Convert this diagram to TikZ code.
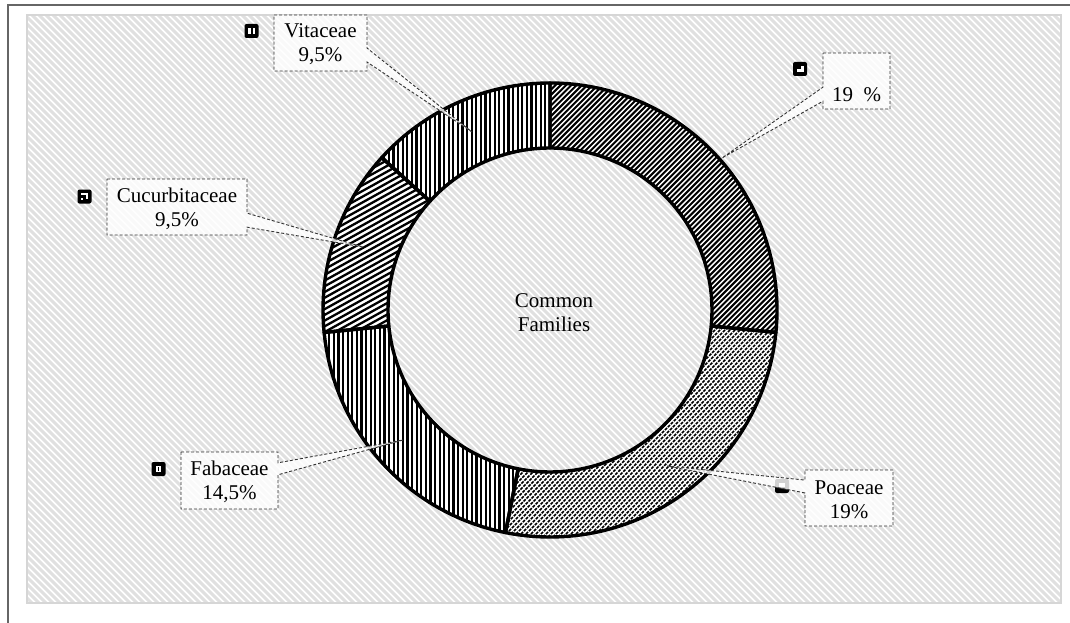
\documentclass[tikz,border=0pt]{standalone}
\usepackage{fontspec}
\setmainfont{Liberation Serif}
\usetikzlibrary{calc}
\begin{document}
\begin{tikzpicture}[x=1pt,y=-1pt,
  bgline/.style={draw=black!12, line width=2.9pt},
  ringedge/.style={draw=black, line width=3.4pt, line join=round},
  patline/.style={draw=black, line width=2.2pt},
  dashline/.style={draw=black, line width=1.5pt, dash pattern=on 3pt off 1.2pt},
  callout/.style={draw=black!80, densely dashed, line width=0.9pt, fill=white, fill opacity=0.82},
  lbl/.style={font=\fontsize{21}{24}\selectfont, align=center, text=black, inner sep=0pt},
  icon/.style={fill=black, rounded corners=2pt, minimum size=14pt, inner sep=0pt},
  boxsh/.style={inner sep=0pt, outer sep=0pt},
  sector/.style 2 args={insert path={(#1:227) arc[start angle=#1,end angle=#2,radius=227] -- (#2:162) arc[start angle=#2,end angle=#1,radius=162] -- cycle}}
]
\useasboundingbox (0,0) rectangle (1070,623);
% outer frame
\draw[black!60, line width=1.4pt] (1070,5) -- (8,5) -- (8,623);
% background hatch
\begin{scope}
  \clip (27,15) rectangle (1061,603);
  \foreach \i in {0,...,235} { \draw[bgline] ({27-590+\i*7},15) -- ++(590,590); }
\end{scope}
\draw[black!16, line width=1.6pt] (27,15) rectangle (1061,603);

% ring
\begin{scope}[shift={(550,310)}, yscale=-1]
  % segment A (19 %)
  \begin{scope}
    \clip[sector={90}{-5.66}];
    \fill[white] (-240,-240) rectangle (240,240);
    \foreach \i in {0,...,92} { \draw[patline, line width=2pt] ({-230+\i*5.3-230},-230) -- ++(460,460); }
  \end{scope}
  % Poaceae
  \begin{scope}
    \clip[sector={-5.66}{-101.32}];
    \fill[white] (-240,-240) rectangle (240,240);
    \foreach \i in {0,...,106} { \draw[dashline] ({-70+\i*5-230},-230) -- ++(460,460); }
  \end{scope}
  % Fabaceae
  \begin{scope}
    \clip[sector={-101.32}{-174.33}];
    \fill[white] (-240,-240) rectangle (240,240);
    \foreach \i in {0,...,46} { \draw[patline] ({-230+\i*4.6},-240) -- ++(0,480); }
  \end{scope}
  % Cucurbitaceae
  \begin{scope}
    \clip[sector={-174.33}{-222.17}];
    \fill[white] (-240,-240) rectangle (240,240);
    \begin{scope}[rotate=-29]
      \foreach \i in {0,...,120} { \draw[patline, line width=2.3pt] (-320,{-300+\i*5}) -- ++(640,0); }
    \end{scope}
  \end{scope}
  % Vitaceae
  \begin{scope}
    \clip[sector={-222.17}{-270}];
    \fill[white] (-240,-240) rectangle (240,240);
    \foreach \i in {0,...,40} { \draw[patline] ({-175+\i*4.6},-240) -- ++(0,480); }
  \end{scope}
  \draw[ringedge, sector={90}{-5.66}];
  \draw[ringedge, sector={-5.66}{-101.32}];
  \draw[ringedge, sector={-101.32}{-174.33}];
  \draw[ringedge, sector={-174.33}{-222.17}];
  \draw[ringedge, sector={-222.17}{-270}];
\end{scope}

% icons
\node[icon] (icv) at (251.5,31) {};
\fill[white] ([shift={(-3.5,-3)}]icv.center) rectangle ([shift={(-1,3)}]icv.center);
\fill[white] ([shift={(1,-3)}]icv.center) rectangle ([shift={(3.5,3)}]icv.center);
\node[icon] (ica) at (800,69) {};
\fill[white] ([shift={(-3.5,0.5)}]ica.center) rectangle ([shift={(1.5,3.5)}]ica.center);
\fill[white] ([shift={(0.5,-2.5)}]ica.center) rectangle ([shift={(3.5,3.5)}]ica.center);
\node[icon] (icc) at (84.5,196.5) {};
\fill[white] ([shift={(-3.5,-3.5)}]icc.center) rectangle ([shift={(3,-1.5)}]icc.center);
\fill[white] ([shift={(1,-3.5)}]icc.center) rectangle ([shift={(3,2)}]icc.center);
\fill[white] ([shift={(-3.5,1)}]icc.center) rectangle ([shift={(-1.5,3)}]icc.center);
\node[icon] (icf) at (158.5,469) {};
\fill[white] ([shift={(-2.5,-3)}]icf.center) rectangle ([shift={(2.5,3)}]icf.center);
\fill[black] ([shift={(-0.4,-2)}]icf.center) rectangle ([shift={(0.4,2)}]icf.center);
\node[icon] (icp) at (782,486) {};
\fill[white] ([shift={(-3,-3.5)}]icp.center) rectangle ([shift={(3,1)}]icp.center);

% apex points
\coordinate (apV) at (472,132);
\coordinate (apA) at (722,158);
\coordinate (apC) at (363,247);
\coordinate (apF) at (403,440);
\coordinate (apP) at (667,466);

% boxes
\node[boxsh, minimum width=93pt, minimum height=56pt] (bV) at (320.5,43) {};
\node[boxsh, minimum width=67pt, minimum height=56pt] (bA) at (856.5,81) {};
\node[boxsh, minimum width=140pt, minimum height=56pt] (bC) at (177,207) {};
\node[boxsh, minimum width=97pt, minimum height=57pt] (bF) at (229.5,480.5) {};
\node[boxsh, minimum width=88pt, minimum height=56pt] (bP) at (849,498) {};

% callouts
\draw[callout] (bV.north west) -- (bV.north east) -- ($(bV.north east)!0.59!(bV.south east)$) -- (apV) -- ($(bV.north east)!0.84!(bV.south east)$) -- (bV.south east) -- (bV.south west) -- cycle;
\draw[callout] (bA.north west) -- (bA.north east) -- (bA.south east) -- (bA.south west) -- ($(bA.north west)!0.86!(bA.south west)$) -- (apA) -- ($(bA.north west)!0.61!(bA.south west)$) -- cycle;
\draw[callout] (bC.north west) -- (bC.north east) -- ($(bC.north east)!0.61!(bC.south east)$) -- (apC) -- ($(bC.north east)!0.86!(bC.south east)$) -- (bC.south east) -- (bC.south west) -- cycle;
\draw[callout] (bF.north west) -- (bF.north east) -- ($(bF.north east)!0.19!(bF.south east)$) -- (apF) -- ($(bF.north east)!0.40!(bF.south east)$) -- (bF.south east) -- (bF.south west) -- cycle;
\draw[callout] (bP.north west) -- (bP.north east) -- (bP.south east) -- (bP.south west) -- ($(bP.north west)!0.41!(bP.south west)$) -- (apP) -- ($(bP.north west)!0.18!(bP.south west)$) -- cycle;

% labels
\node[lbl] (tV) at (320.5,44.5) {Vitaceae\\9,5\%};
\node[lbl] (tA) at (856.5,95) {19\ \ \%};
\node[lbl] (tC) at (177,208.5) {Cucurbitaceae\\9,5\%};
\node[lbl] (tF) at (229.5,482) {Fabaceae\\14,5\%};
\node[lbl] (tP) at (849,499.5) {Poaceae\\19\%};
\node[lbl] (tCenter) at (554,313) {Common\\Families};
\end{tikzpicture}
\end{document}
